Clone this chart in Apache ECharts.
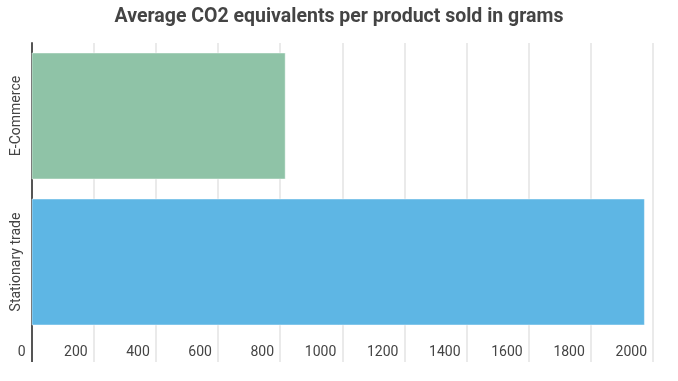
<!DOCTYPE html>
<html>
<head>
<meta charset="utf-8">
<script src="https://cdn.jsdelivr.net/npm/echarts@6/dist/echarts.min.js"></script>
<style>html,body{margin:0;padding:0;background:#fff;}#c{width:678px;height:381px;}</style>
</head>
<body>
<div id="c"></div>
<script>
const titleText = 'Average CO2 equivalents per product sold in grams';
const categories = ['E-Commerce', 'Stationary trade'];
const values = [818, 1974];
const barColors = ['#8fc3a7', '#5eb6e4'];
const axisMin = 0, axisMax = 2000, axisStep = 200;

const chart = echarts.init(document.getElementById('c'), null, {renderer: 'canvas'});
chart.setOption({
  animation: false,
  backgroundColor: '#ffffff',
  title: {
    text: titleText, left: 'center', top: 2,
    textStyle: {fontFamily: 'Roboto', fontSize: 19.5, fontWeight: 'bold', color: '#444'}
  },
  grid: {left: 31.5, right: 25, top: 43, bottom: 46, containLabel: false},
  xAxis: [{
    type: 'value', min: axisMin, max: axisMax, interval: axisStep,
    axisLine: {show: false},
    axisTick: {show: true, length: 27, lineStyle: {color: '#e3e3e3', width: 1.5}},
    splitLine: {show: true, lineStyle: {color: '#e3e3e3', width: 1.5}},
    axisLabel: {fontFamily: 'Roboto', fontSize: 14, color: '#444', align: 'right', margin: 10, padding: [0, 6, 0, 0],
      formatter: (v) => String(v)}
  }, {
    type: 'value', min: axisMin, max: axisMax, position: 'bottom',
    axisLine: {show: false},
    axisTick: {show: true, length: 27, customValues: [axisMin], lineStyle: {color: '#555', width: 2}},
    splitLine: {show: false},
    axisLabel: {show: false}
  }],
  yAxis: {
    type: 'category', data: categories, inverse: true,
    axisLine: {show: true, lineStyle: {color: '#555', width: 2}},
    axisTick: {show: false},
    axisLabel: {rotate: 90, fontFamily: 'Roboto', fontSize: 14, color: '#444', margin: 8}
  },
  series: [{
    type: 'bar', xAxisIndex: 0,
    data: values.map((v, i) => ({value: v, itemStyle: {color: barColors[i]}})),
    barCategoryGap: '13%',
    itemStyle: {borderColor: 'rgba(255,255,255,0.45)', borderWidth: 1}
  }]
});
</script>
</body>
</html>
